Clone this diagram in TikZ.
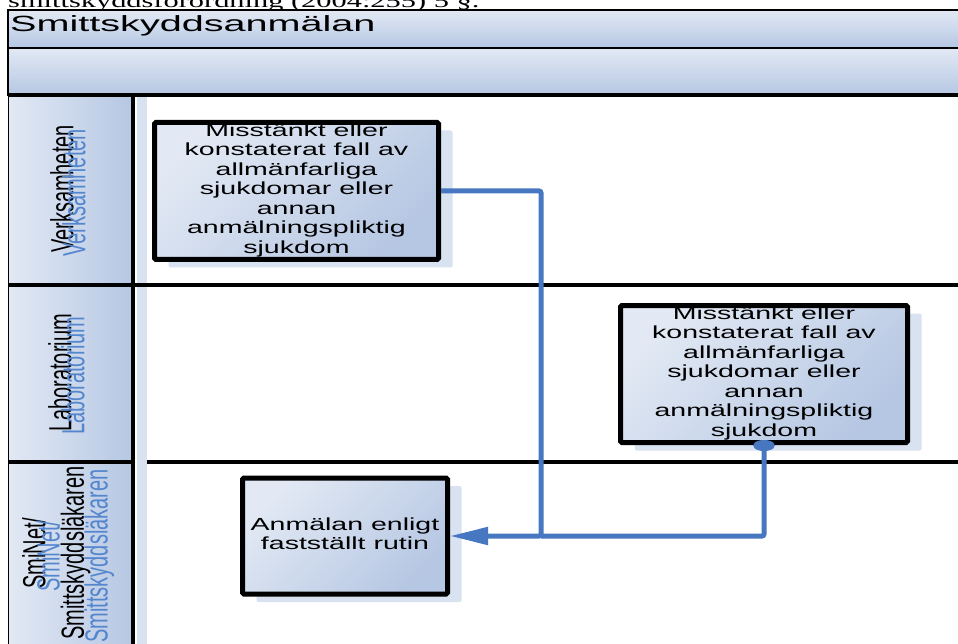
\documentclass[tikz,border=0pt]{standalone}
\usepackage{fontspec}
\setmainfont{Liberation Serif}
\setsansfont{Liberation Sans}
\usepackage{graphicx}
\usetikzlibrary{arrows.meta, shadows}

\definecolor{barlight}{RGB}{226,233,244}
\definecolor{bardark}{RGB}{182,199,227}
\definecolor{shadowblue}{RGB}{216,226,241}
\definecolor{flowblue}{RGB}{70,119,192}
\definecolor{ghostblue}{RGB}{84,134,206}

\newcommand{\wide}[2][1.6]{\scalebox{#1}[1]{#2}}

\begin{document}
\begin{tikzpicture}[x=1pt, y=-1pt,
    bar/.style={draw=black, line width=1.2pt, top color=barlight, bottom color=bardark},
    lanehead/.style={left color=barlight, right color=bardark},
    laneline/.style={line width=3.5pt},
    lanetext/.style={font=\sffamily\fontsize{20}{24}\selectfont, inner sep=0pt},
    ghost/.style={lanetext, text=ghostblue},
    task/.style={draw, line width=5pt, rounded corners=1.5pt, top color=barlight, bottom color=bardark,
        shading angle=45, inner sep=0pt, font=\sffamily\fontsize{17.5}{19.5}\selectfont,
        drop shadow={fill=shadowblue, opacity=1, shadow xshift=14pt, shadow yshift=-8pt}},
    flow/.style={draw=flowblue, line width=5pt, rounded corners=2pt}]

    \useasboundingbox (0,0) rectangle (958,644);
    \clip (0,0) rectangle (958,644);

    \node[anchor=base west, inner sep=0pt, font=\rmfamily\fontsize{19}{22}\selectfont] (note) at (8,8)
        {\wide{smittskyddsförordning (2004:255) 5 §.}};

    % header bars
    \draw[bar] (8,10) rectangle (970,48);
    \draw[bar] (8,48) rectangle (970,95);
    \node[anchor=base west, inner sep=0pt, font=\sffamily\fontsize{22}{26}\selectfont] (title) at (10,32)
        {\wide[1.8]{Smittskyddsanmälan}};

    % lanes
    \fill[shadowblue] (137,97) rectangle (147,660);
    \shade[lanehead] (8,97) rectangle (133,285);
    \shade[lanehead] (8,285) rectangle (133,462);
    \shade[lanehead] (8,462) rectangle (133,660);
    \draw[line width=1pt] (8,95) -- (8,660);
    \draw[laneline] (133,95) -- (133,660);
    \draw[line width=4pt] (8,95) -- (970,95);
    \draw[laneline] (8,285) -- (970,285);
    \draw[laneline] (8,462) -- (133,462);
    \draw[laneline] (147,462) -- (970,462);

    \node[lanetext] (verk) at (62,189) {\wide{\rotatebox{90}{Verksamheten}}};
    \node[ghost] (verkghost) at (74,193) {\wide{\rotatebox{90}{Verksamheten}}};
    \node[lanetext] (lab) at (60,373) {\wide{\rotatebox{90}{Laboratorium}}};
    \node[ghost] (labghost) at (73,376) {\wide{\rotatebox{90}{Laboratorium}}};
    \node[lanetext] (smi) at (57,553)
        {\wide{\rotatebox{90}{\begin{tabular}{@{}c@{}}SmiNet/\\Smittskyddsläkaren\end{tabular}}}};
    \node[ghost, font=\sffamily\fontsize{20}{30}\selectfont] (smighost) at (74,556)
        {\wide{\rotatebox{90}{\begin{tabular}{@{}c@{}}SmiNet/\\Smittskyddsläkaren\end{tabular}}}};

    % tasks
    \node[task, minimum width=284pt, minimum height=137pt] (misst1) at (296.5,191)
        {\wide[1.63]{\begin{tabular}{@{}c@{}}Misstänkt eller\\konstaterat fall av\\allmänfarliga\\sjukdomar eller\\annan\\anmälningspliktig\\sjukdom\end{tabular}}};
    \node[task, minimum width=287pt, minimum height=137pt] (misst2) at (764,374)
        {\wide[1.63]{\begin{tabular}{@{}c@{}}Misstänkt eller\\konstaterat fall av\\allmänfarliga\\sjukdomar eller\\annan\\anmälningspliktig\\sjukdom\end{tabular}}};
    \node[task, minimum width=205pt, minimum height=116pt] (anm) at (345,536)
        {\wide[1.63]{\begin{tabular}{@{}c@{}}Anmälan enligt\\fastställt rutin\end{tabular}}};

    \coordinate (jn) at (541,536);
    \draw[flow, -{Triangle[length=38pt,width=17pt]}] (misst1.east) -| (jn) -- (anm.east);
    \draw[flow, {Circle[length=11pt,width=21pt]}-, shorten <=-5pt] (misst2.south) |- (jn);

\end{tikzpicture}
\end{document}
